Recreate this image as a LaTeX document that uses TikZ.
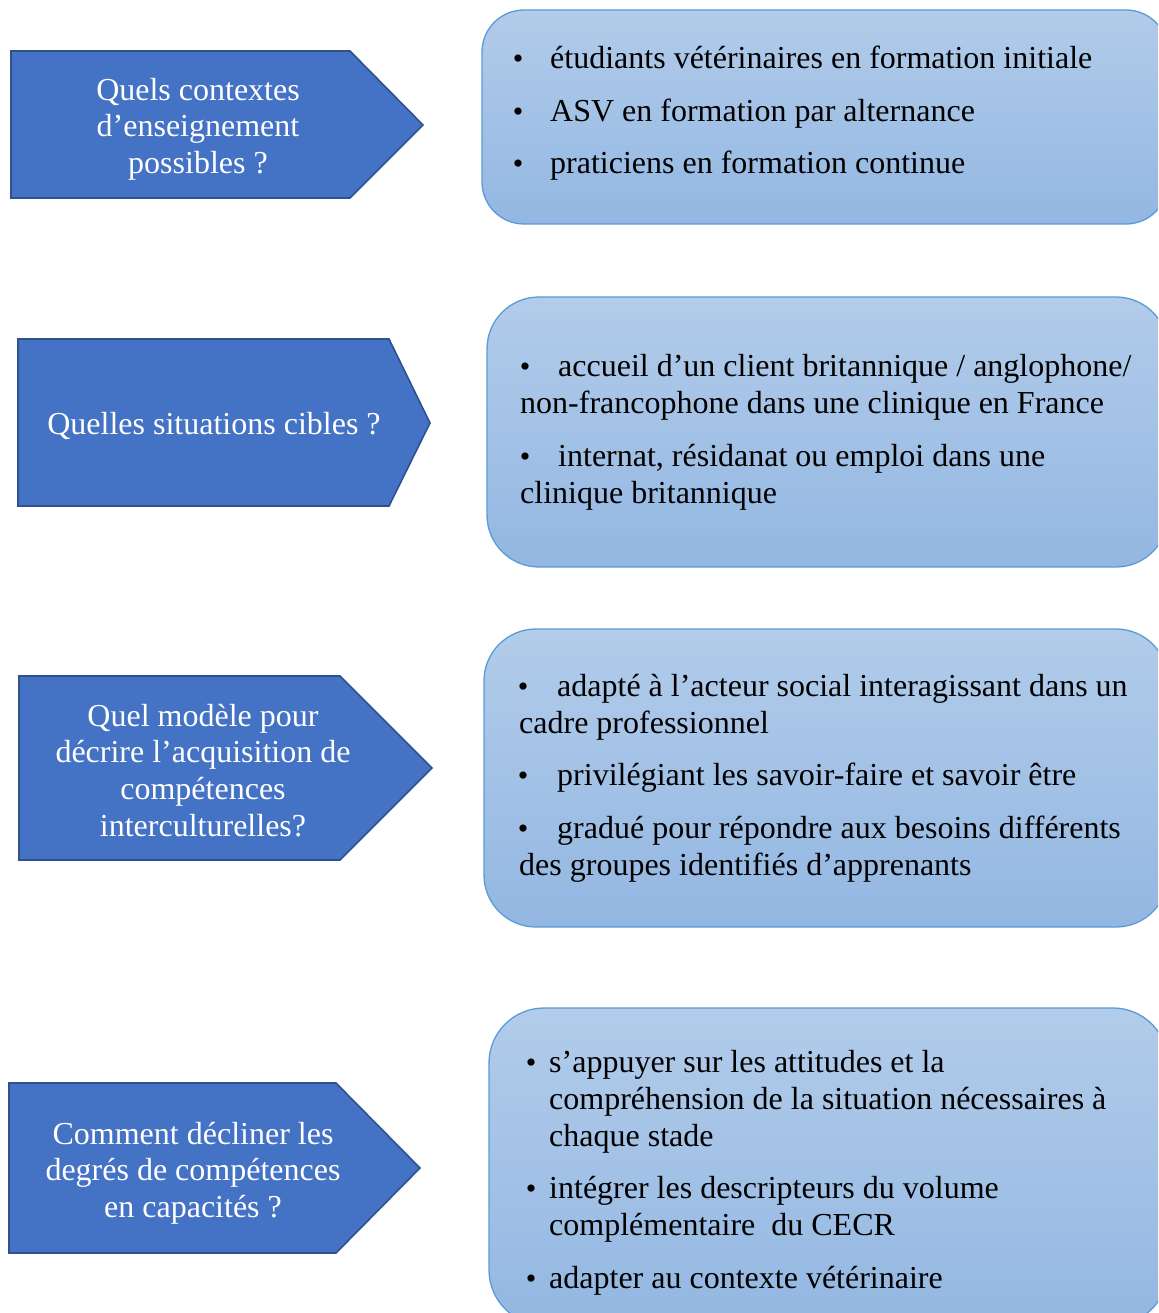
\documentclass[tikz,border=0pt]{standalone}
\usepackage{fontspec}
\setmainfont{Liberation Serif}
\definecolor{arrowfill}{HTML}{4472C4}
\definecolor{arrowline}{HTML}{2F528F}
\definecolor{boxline}{HTML}{5B9BD5}
\definecolor{boxtop}{HTML}{B2CCEA}
\definecolor{boxbot}{HTML}{93B7E2}
\begin{document}
\begin{tikzpicture}[x=1pt,y=-1pt,
  qarrow/.style={fill=arrowfill,draw=arrowline,line width=1.6pt,line join=miter},
  abox/.style={draw=boxline,line width=1.3pt,top color=boxtop,bottom color=boxbot},
  qtext/.style={text=white,font=\fontsize{32}{36}\selectfont,inner sep=0pt,anchor=base},
  btext/.style={text=black,font=\fontsize{32}{36}\selectfont,inner sep=0pt,anchor=base west},
  bul/.style={text=black,font=\fontsize{30}{36}\selectfont,inner sep=0pt,anchor=base}]
\useasboundingbox (0,0) rectangle (1158,1313);
\clip (0,0) rectangle (1158,1313);
\fill[white] (0,0) rectangle (1158,1313);

% ---------- row 1 ----------
\path[qarrow] (11,51) -- (350,51) -- (423,125) -- (350,198) -- (11,198) -- cycle;
\node[qtext] (q1a) at (198,101) {Quels contextes};
\node[qtext] (q1b) at (198,137) {d’enseignement};
\node[qtext] (q1c) at (198,174) {possibles ?};

\path[abox,rounded corners=42pt] (482,10) rectangle (1168,224);
\node[bul] (d1a) at (518,69) {•};
\node[btext] (t1a) at (550,69) {étudiants vétérinaires en formation initiale};
\node[bul] (d1b) at (518,122) {•};
\node[btext] (t1b) at (550,122) {ASV en formation par alternance};
\node[bul] (d1c) at (518,174) {•};
\node[btext] (t1c) at (550,174) {praticiens en formation continue};

% ---------- row 2 ----------
\path[qarrow] (18,339) -- (389,339) -- (430,423) -- (389,506) -- (18,506) -- cycle;
\node[qtext] (q2a) at (214,434) {Quelles situations cibles ?};

\path[abox,rounded corners=52pt] (487,297) rectangle (1168,567);
\node[bul] (d2a) at (525,376) {•};
\node[btext] (t2a) at (558,376) {accueil d’un client britannique / anglophone/};
\node[btext] (t2b) at (520,413) {non-francophone dans une clinique en France};
\node[bul] (d2c) at (525,466) {•};
\node[btext] (t2c) at (558,466) {internat, résidanat ou emploi dans une};
\node[btext] (t2d) at (520,503) {clinique britannique};

% ---------- row 3 ----------
\path[qarrow] (19,676) -- (340,676) -- (432,768) -- (340,860) -- (19,860) -- cycle;
\node[qtext] (q3a) at (203,726) {Quel modèle pour};
\node[qtext] (q3b) at (203,762) {décrire l’acquisition de};
\node[qtext] (q3c) at (203,799) {compétences};
\node[qtext] (q3d) at (203,836) {interculturelles?};

\path[abox,rounded corners=52pt] (484,629) rectangle (1168,927);
\node[bul] (d3a) at (523,696) {•};
\node[btext] (t3a) at (557,696) {adapté à l’acteur social interagissant dans un};
\node[btext] (t3b) at (519,733) {cadre professionnel};
\node[bul] (d3c) at (523,785) {•};
\node[btext] (t3c) at (557,785) {privilégiant les savoir-faire et savoir être};
\node[bul] (d3d) at (523,838) {•};
\node[btext] (t3d) at (557,838) {gradué pour répondre aux besoins différents};
\node[btext] (t3e) at (519,875) {des groupes identifiés d’apprenants};

% ---------- row 4 ----------
\path[qarrow] (9,1083) -- (336,1083) -- (420,1168) -- (336,1253) -- (9,1253) -- cycle;
\node[qtext] (q4a) at (193,1144) {Comment décliner les};
\node[qtext] (q4b) at (193,1180) {degrés de compétences};
\node[qtext] (q4c) at (193,1217) {en capacités ?};

\path[abox,rounded corners=55pt] (489,1008) rectangle (1168,1325);
\node[bul] (d4a) at (531,1072) {•};
\node[btext] (t4a) at (549,1072) {s’appuyer sur les attitudes et la};
\node[btext] (t4b) at (549,1109) {compréhension de la situation nécessaires à};
\node[btext] (t4c) at (549,1146) {chaque stade};
\node[bul] (d4d) at (531,1198) {•};
\node[btext] (t4d) at (549,1198) {intégrer les descripteurs du volume};
\node[btext] (t4e) at (549,1235) {complémentaire\ \ du CECR};
\node[bul] (d4f) at (531,1288) {•};
\node[btext] (t4f) at (549,1288) {adapter au contexte vétérinaire};
\end{tikzpicture}
\end{document}
